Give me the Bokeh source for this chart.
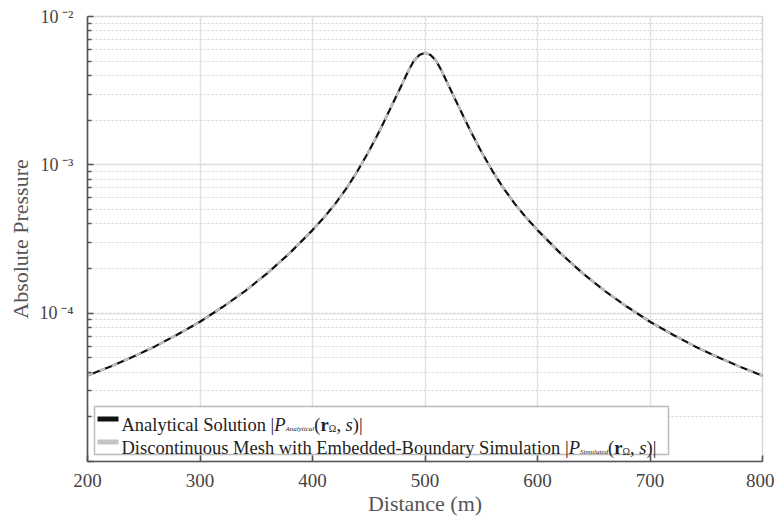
from bokeh.plotting import figure
from bokeh.models import FixedTicker, Label, BoxAnnotation, ColumnDataSource, CustomJSTickFormatter
from bokeh.embed import file_html
from bokeh.resources import INLINE

# ---------------- data ----------------
distance = [200, 220, 240, 260, 280, 300, 320, 340, 360, 380, 400, 410, 420, 430, 440,
            450, 460, 470, 480, 485, 490, 495, 500,
            505, 510, 515, 520, 530, 540, 550, 560, 570, 580, 590, 600, 620, 640, 660,
            680, 700, 720, 740, 760, 780, 800]
analytical = [3.80e-5, 4.35e-5, 5.06e-5, 5.97e-5, 7.18e-5, 8.75e-5, 1.10e-4, 1.41e-4,
              1.86e-4, 2.55e-4, 3.63e-4, 4.40e-4, 5.43e-4, 6.92e-4, 9.08e-4, 1.23e-3,
              1.72e-3, 2.46e-3, 3.55e-3, 4.27e-3, 5.01e-3, 5.50e-3, 5.69e-3,
              5.50e-3, 5.01e-3, 4.27e-3, 3.55e-3, 2.46e-3, 1.72e-3, 1.23e-3, 9.08e-4,
              6.92e-4, 5.43e-4, 4.40e-4, 3.63e-4, 2.55e-4, 1.86e-4, 1.41e-4, 1.10e-4,
              8.75e-5, 7.18e-5, 5.97e-5, 5.06e-5, 4.35e-5, 3.78e-5]
simulated = [3.80e-5, 4.35e-5, 5.06e-5, 5.97e-5, 7.18e-5, 8.75e-5, 1.10e-4, 1.41e-4,
             1.86e-4, 2.55e-4, 3.63e-4, 4.40e-4, 5.43e-4, 6.92e-4, 9.08e-4, 1.23e-3,
             1.72e-3, 2.46e-3, 3.55e-3, 4.27e-3, 5.01e-3, 5.50e-3, 5.69e-3,
             5.50e-3, 5.01e-3, 4.27e-3, 3.55e-3, 2.46e-3, 1.72e-3, 1.23e-3, 9.08e-4,
             6.92e-4, 5.43e-4, 4.40e-4, 3.63e-4, 2.55e-4, 1.86e-4, 1.41e-4, 1.10e-4,
             8.75e-5, 7.18e-5, 5.97e-5, 5.06e-5, 4.35e-5, 3.78e-5]
x_ticks = [200, 300, 400, 500, 600, 700, 800]
y_major = [1e-5, 1e-4, 1e-3, 1e-2]
y_minor = [m * d for d in [1e-5, 1e-4, 1e-3] for m in range(2, 10)]
x_title = "Distance (m)"
y_title = "Absolute Pressure"

SERIF = "Liberation Serif"

p = figure(width=774, height=521, output_backend="svg", toolbar_location=None,
           y_axis_type="log", x_range=(200, 800), y_range=(1e-5, 1e-2),
           min_border_left=87, min_border_right=12, min_border_top=16,
           min_border_bottom=60, background_fill_color="white",
           border_fill_color="white")
p.outline_line_color = "#d5d5d5"
p.outline_line_width = 1.5

src = ColumnDataSource(dict(x=distance, a=analytical, s=simulated))
p.line("x", "a", source=src, line_color="#111111", line_width=2.2)
p.line("x", "s", source=src, line_color="#c4c4c4", line_width=2.2, line_dash="6 7")

# axes
p.xaxis.ticker = FixedTicker(ticks=x_ticks)
p.yaxis.ticker = FixedTicker(ticks=y_major, minor_ticks=y_minor)
for ax in (p.xaxis[0], p.yaxis[0]):
    ax.axis_line_color = "#555555"
    ax.axis_line_width = 1.6
    ax.major_tick_in = 6
    ax.major_tick_out = 0
    ax.major_tick_line_color = "#555555"
    ax.major_tick_line_width = 1.6
    ax.minor_tick_in = 4
    ax.minor_tick_out = 0
    ax.minor_tick_line_color = "#555555"
    ax.minor_tick_line_width = 1.3
    ax.major_label_text_font = SERIF
    ax.major_label_text_color = "#444444"
    ax.axis_label_text_font = SERIF
    ax.axis_label_text_font_style = "normal"
    ax.axis_label_text_font_size = "22px"
    ax.axis_label_text_color = "#555555"
p.xaxis.minor_tick_line_color = None
p.xaxis.major_label_text_font_size = "19px"
p.xaxis.major_label_standoff = 12
p.xaxis.axis_label = x_title
p.xaxis.axis_label_standoff = 1

p.yaxis.formatter = CustomJSTickFormatter(code="""
const e = Math.round(Math.log10(tick));
if (e <= -5) { return ""; }
const sup = {"-": "\\u207b", "0": "\\u2070", "1": "\\u00b9", "2": "\\u00b2",
             "3": "\\u00b3", "4": "\\u2074", "5": "\\u2075"};
return "10\\u2009" + String(e).split("").map(c => sup[c]).join("");
""")
p.yaxis.major_label_text_font_size = "18px"
p.yaxis.major_label_standoff = 14
p.yaxis.axis_label = y_title
p.yaxis.axis_label_standoff = 4

# grids
p.xgrid.grid_line_color = "#e2e2e2"
p.xgrid.grid_line_width = 1.5
p.ygrid.grid_line_color = "#dcdcdc"
p.ygrid.grid_line_width = 1.5
p.ygrid.minor_grid_line_color = "#d2d2d2"
p.ygrid.minor_grid_line_dash = "2 2"
p.ygrid.minor_grid_line_width = 1

# legend (manual, to keep sub-scripted labels)
p.add_layout(BoxAnnotation(left=7, right=581, bottom=7, top=55, left_units="screen",
                           right_units="screen", bottom_units="screen", top_units="screen",
                           fill_color="white", fill_alpha=1, line_color="#222222",
                           line_width=1.5))
p.add_layout(BoxAnnotation(left=10, right=31, bottom=40, top=45, left_units="screen",
                           right_units="screen", bottom_units="screen", top_units="screen",
                           fill_color="#111111", fill_alpha=1, line_color=None))
p.add_layout(BoxAnnotation(left=10, right=31, bottom=17, top=22, left_units="screen",
                           right_units="screen", bottom_units="screen", top_units="screen",
                           fill_color="#c4c4c4", fill_alpha=1, line_color=None))

def piece(x, y, text, size, style="normal"):
    p.add_layout(Label(x=x, y=y, x_units="screen", y_units="screen", text=text,
                       text_font=SERIF, text_font_size=size, text_font_style=style,
                       text_color="#222222", text_align="left", text_baseline="alphabetic"))

rows = [(37, "Analytical Solution |", "Analytical", 186.7),
        (14, "Discontinuous Mesh with Embedded-Boundary Simulation |", "Simulated", 481.2)]
for yb, lead, sub, xp in rows:
    piece(34, yb, lead, "18.5px")
    piece(xp, yb, "P", "18.5px", "italic")
    w_sub = 7 * (4.111 if sub == "Analytical" else 4.0)
    piece(xp + 11.3, yb - 4, sub, "7px", "italic")
    x2 = xp + 11.3 + w_sub
    piece(x2, yb, "(", "18.5px")
    piece(x2 + 6.2, yb, "r", "18.5px", "bold")
    piece(x2 + 14.4, yb - 4, "\u03a9", "10px")
    piece(x2 + 22.1, yb, ",", "18.5px")
    piece(x2 + 31.3, yb, "s", "18.5px", "italic")
    piece(x2 + 38.5, yb, ")|", "18.5px")

open("out.html", "w").write(file_html(p, INLINE))
